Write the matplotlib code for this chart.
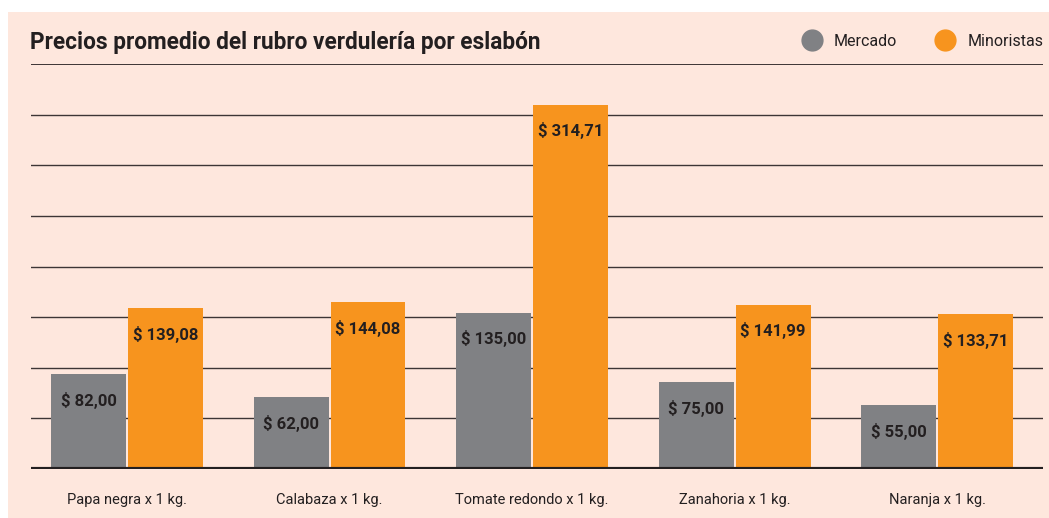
import numpy as np
import matplotlib.pyplot as plt
from matplotlib.patches import Rectangle
from matplotlib.lines import Line2D

categorias = ["Papa negra x 1 kg.", "Calabaza x 1 kg.", "Tomate redondo x 1 kg.",
              "Zanahoria x 1 kg.", "Naranja x 1 kg."]
mercado = [82.00, 62.00, 135.00, 75.00, 55.00]
minoristas = [139.08, 144.08, 314.71, 141.99, 133.71]
etiquetas_mercado = ["$ 82,00", "$ 62,00", "$ 135,00", "$ 75,00", "$ 55,00"]
etiquetas_minoristas = ["$ 139,08", "$ 144,08", "$ 314,71", "$ 141,99", "$ 133,71"]

GRIS = "#808184"
NARANJA = "#F7941E"
FONDO = "#FEE7DD"
TEXTO = "#231F20"

plt.rcParams["font.family"] = ["Roboto", "DejaVu Sans"]

fig = plt.figure(figsize=(10.49, 5.18), dpi=100, facecolor="white")
# panel de fondo
fig.patches.append(Rectangle((8 / 1049, 0), 1 - 8 / 1049, 1 - 12 / 518,
                             transform=fig.transFigure, facecolor=FONDO,
                             edgecolor="none", zorder=-10))

ax = fig.add_axes([31 / 1049, 49 / 518, 1012 / 1049, 405 / 518])
ax.set_facecolor("none")
ax.set_zorder(5)

x = np.arange(len(categorias))
ancho = 0.37
off = 0.19
b1 = ax.bar(x - off, mercado, ancho, color=GRIS, zorder=3)
b2 = ax.bar(x + off, minoristas, ancho, color=NARANJA, zorder=3)

ax.set_xlim(-0.474, 4.523)
ax.set_ylim(0, 350)
for yv in np.linspace(0, 350, 9)[1:]:
    ax.axhline(yv, color="#3d3535", lw=1.0 if yv < 350 else 1.4, zorder=1)
ax.axhline(0, color=TEXTO, lw=3, zorder=4)

for rect, txt in zip(list(b1) + list(b2), etiquetas_mercado + etiquetas_minoristas):
    ax.annotate(txt, (rect.get_x() + rect.get_width() / 2, rect.get_height()),
                xytext=(0, -26), textcoords="offset pixels",
                ha="center", va="center", fontsize=12, fontweight="semibold",
                color=TEXTO, zorder=5)

ax.set_xticks(x)
ax.set_xticklabels(categorias, fontsize=10.5, color=TEXTO)
ax.tick_params(axis="x", length=0, pad=17)
ax.set_yticks([])
for s in ax.spines.values():
    s.set_visible(False)

fig.text(30 / 1049, 1 - 42 / 518, "Precios promedio del rubro verdulería por eslabón",
         fontsize=16.3, fontweight="bold", color=TEXTO, va="center", ha="left")

handles = [Line2D([], [], marker="o", ls="none", ms=15, color=GRIS),
           Line2D([], [], marker="o", ls="none", ms=15, color=NARANJA)]
fig.legend(handles, ["Mercado", "Minoristas"], loc="center right",
           bbox_to_anchor=(1058 / 1049, 1 - 41 / 518), ncol=2, frameon=False,
           fontsize=11.5, handletextpad=0.4, columnspacing=2.0,
           labelcolor=TEXTO)

fig.savefig("out.png", dpi=100, facecolor="white")
